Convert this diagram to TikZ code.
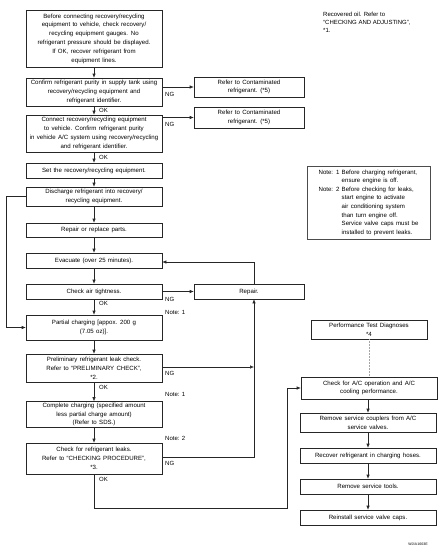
\documentclass[tikz,border=0pt]{standalone}
\usepackage{fontspec}
\setmainfont{Liberation Sans}
\usetikzlibrary{arrows.meta}
\newcommand{\mywsp}{\spaceskip=2.3pt plus 1pt minus 0.5pt\relax}
\begin{document}
\begin{tikzpicture}[x=1pt,y=-1pt,
  every node/.style={font=\fontsize{6.1}{8.8}\selectfont\mywsp, inner sep=0pt},
  box/.style={draw=black!85, line width=0.55pt, align=center, minimum width=136pt},
  sidebox/.style={box, minimum width=110pt},
  lbl/.style={anchor=west, font=\fontsize{6}{7}\selectfont},
  conn/.style={draw=black!85, line width=0.55pt},
  arr/.style={conn, -{Latex[length=4pt,width=3.4pt]}}
]
\useasboundingbox (0,0) rectangle (443,551);
% main column
\node[box, minimum height=57pt] (b1) at (94,38.5) {Before connecting recovery/recycling\\equipment to vehicle, check recovery/\\recycling equipment gauges. No\\refrigerant pressure should be displayed.\\If OK, recover refrigerant from\\equipment lines.};
\node[box, minimum height=28pt] (b2) at (94,92) {Confirm refrigerant purity in supply tank using\\recovery/recycling equipment and\\refrigerant identifier.};
\node[box, minimum height=37pt] (b3) at (94,133.5) {Connect recovery/recycling equipment\\to vehicle. Confirm refrigerant purity\\in vehicle A/C system using recovery/recycling\\and refrigerant identifier.};
\node[box, minimum height=15pt] (b4) at (94,170.5) {Set the recovery/recycling equipment.};
\node[box, minimum height=19pt] (b5) at (94,196.5) {Discharge refrigerant into recovery/\\recycling equipment.};
\node[box, minimum height=14pt] (b6) at (94,230) {Repair or replace parts.};
\node[box, minimum height=15pt] (b7) at (94,260.5) {Evacuate (over 25 minutes).};
\node[box, minimum height=15pt] (b8) at (94,291.5) {Check air tightness.};
\node[box, minimum height=25pt] (b9) at (94,327.5) {Partial charging [appox. 200 g\\(7.05 oz)].};
\node[box, minimum height=28pt] (b10) at (94,368) {Preliminary refrigerant leak check.\\Refer to “PRELIMINARY CHECK”,\\*2.};
\node[box, minimum height=26pt] (b11) at (94,414.5) {Complete charging (specified amount\\less partial charge amount)\\(Refer to SDS.)};
\node[box, minimum height=31pt] (b12) at (94,458.5) {Check for refrigerant leaks.\\Refer to “CHECKING PROCEDURE”,\\*3.};
% side boxes
\node[sidebox, minimum height=20pt] (ng1) at (249,87) {Refer to Contaminated\\refrigerant. (*5)};
\node[sidebox, minimum height=21pt] (ng2) at (249,117.5) {Refer to Contaminated\\refrigerant. (*5)};
\node[sidebox, minimum height=15pt] (rep) at (249,291.5) {Repair.};
% right column
\node[box, minimum width=116pt, minimum height=19pt] (perf) at (369,329.5) {Performance Test Diagnoses\\*4};
\node[box, minimum height=22pt] (r1) at (369,388) {Check for A/C operation and A/C\\cooling performance.};
\node[box, minimum height=19pt] (r2) at (368,422.5) {Remove service couplers from A/C\\service valves.};
\node[box, minimum height=15pt] (r3) at (368,455.5) {Recover refrigerant in charging hoses.};
\node[box, minimum height=15pt] (r4) at (368,486.5) {Remove service tools.};
\node[box, minimum height=15pt] (r5) at (368,517.5) {Reinstall service valve caps.};
% note box
\node[draw=black!70, line width=0.5pt, minimum width=123pt, minimum height=73pt, align=left] (note) at (368.5,202.5) {%
\renewcommand{\arraystretch}{0.98}%
\begin{tabular}{@{}l@{ }l@{}}
Note: 1 & Before charging refrigerant,\\
 & ensure engine is off.\\
Note: 2 & Before checking for leaks,\\
 & start engine to activate\\
 & air conditioning system\\
 & than turn engine off.\\
 & Service valve caps must be\\
 & installed to prevent leaks.
\end{tabular}};
% top-right text
\node[anchor=north west, align=left, font=\fontsize{6}{8.2}\selectfont] (oil) at (323,12) {Recovered oil. Refer to\\“CHECKING AND ADJUSTING”,\\*1.};
% code
\node[font=\fontsize{3.6}{4}\selectfont\bfseries, text=black!70] (code) at (418,544) {WJIA1603E};
% main arrows
\draw[arr] (b1) -- (b2);
\draw[arr] (b2) -- (b3);
\draw[arr] (b3) -- (b4);
\draw[arr] (b4) -- (b5);
\draw[arr] (b5) -- (b6);
\draw[arr] (b6) -- (b7);
\draw[arr] (b7) -- (b8);
\draw[arr] (b8) -- (b9);
\draw[arr] (b9) -- (b10);
\draw[arr] (b10) -- (b11);
\draw[arr] (b11) -- (b12);
% NG arrows
\draw[arr] (b2.east |- ng1) -- (ng1.west);
\draw[arr] (b3.east |- ng2) -- (ng2.west);
\draw[arr] (b8.east) -- (rep.west);
\coordinate (rx) at (254,0);
\coordinate (tp) at (254,262);
\draw[arr] (rep.north -| rx) -- (tp) -- (tp -| b7.east);
\coordinate (c10) at (254,367);
\draw[arr] (b10.east |- c10) -- (c10);
\coordinate (c12) at (254,457);
\draw[arr] (b12.east |- c12) -- (c12) -- (rep.south -| rx);
% loop left
\coordinate (lx) at (6,0);
\draw[arr] (b5.west) -- (b5.west -| lx) |- (b9.west);
% OK to right column
\coordinate (bot) at (94,508);
\coordinate (vx) at (287,508);
\draw[arr] (b12.south) -- (bot) -- (vx) |- (r1.west);
\draw[draw=black!35, line width=0.5pt, densely dotted] (perf.south) -- (r1.north);
\draw[arr] (r1.south -| r2) -- (r2);
\draw[arr] (r2) -- (r3);
\draw[arr] (r3) -- (r4);
\draw[arr] (r4) -- (r5);
% labels
\node[lbl] (ng1l) at (165,94) {NG};
\node[lbl] (ng2l) at (165,124) {NG};
\node[lbl] (ng3l) at (165,299) {NG};
\node[lbl] (ng4l) at (165,373) {NG};
\node[lbl] (ng5l) at (165,463) {NG};
\node[lbl] (ok1) at (99,110.5) {OK};
\node[lbl] (ok2) at (99,157.5) {OK};
\node[lbl] (ok3) at (99,303) {OK};
\node[lbl] (ok4) at (99,387) {OK};
\node[lbl] (ok5) at (99,479) {OK};
\node[lbl] (n1) at (165,312) {Note: 1};
\node[lbl] (n2) at (165,394) {Note: 1};
\node[lbl] (n3) at (165,438) {Note: 2};
\end{tikzpicture}
\end{document}
